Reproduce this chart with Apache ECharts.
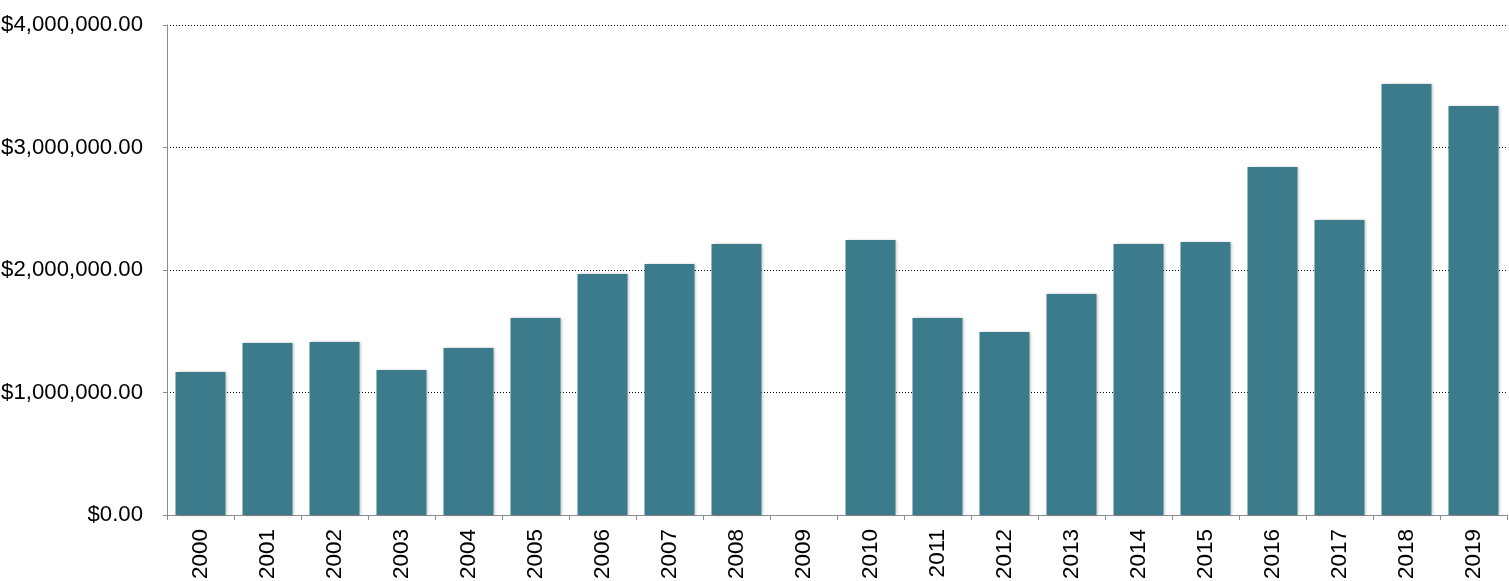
<!DOCTYPE html>
<html>
<head>
<meta charset="utf-8">
<script src="https://cdn.jsdelivr.net/npm/echarts@6/dist/echarts.min.js"></script>
<style>
html,body{margin:0;padding:0;background:#fff;}
#chart{width:1509px;height:581px;}
</style>
</head>
<body>
<div id="chart"></div>
<script>
const years = ['2000','2001','2002','2003','2004','2005','2006','2007','2008','2009','2010','2011','2012','2013','2014','2015','2016','2017','2018','2019'];
const amounts = [1167000,1404000,1412000,1184000,1363000,1608000,1967000,2049000,2212000,null,2245000,1608000,1494000,1804000,2212000,2229000,2841000,2408000,3518000,3339000];
const yTicks = [0,1000000,2000000,3000000,4000000];

function money(v){
  return '$' + v.toLocaleString('en-US',{minimumFractionDigits:2,maximumFractionDigits:2});
}

const chart = echarts.init(document.getElementById('chart'));
chart.setOption({
  animation:false,
  grid:{left:167,right:2,top:25,bottom:66,containLabel:false,outerBoundsMode:'none'},
  xAxis:{
    type:'category',
    data:years,
    axisLine:{lineStyle:{color:'#8c8c8c',width:1}},
    axisTick:{show:true,length:5,lineStyle:{color:'#8c8c8c'}},
    axisLabel:{rotate:90,margin:14,fontFamily:'Liberation Sans',fontSize:22.5,color:'#000'}
  },
  yAxis:{
    type:'value',
    min:yTicks[0],max:yTicks[yTicks.length-1],interval:1000000,
    axisLine:{show:true,lineStyle:{color:'#8c8c8c',width:1}},
    axisTick:{show:true,length:4,lineStyle:{color:'#8c8c8c'}},
    splitLine:{show:true,lineStyle:{color:'#000',type:[1,2],width:1}},
    axisLabel:{formatter:money,margin:24,fontFamily:'Liberation Sans',fontSize:22.2,color:'#000'}
  },
  series:[{
    type:'bar',
    data:amounts,
    barWidth:50,
    itemStyle:{color:'#3c7b8b',shadowBlur:3,shadowColor:'rgba(0,0,0,0.25)',shadowOffsetX:1,shadowOffsetY:0}
  }]
});
</script>
</body>
</html>
